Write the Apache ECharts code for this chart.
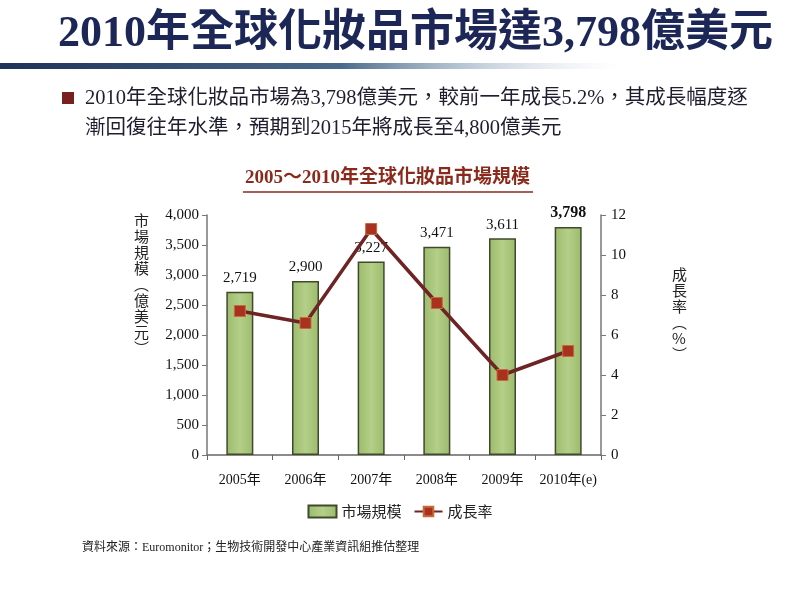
<!DOCTYPE html>
<html>
<head>
    <meta charset="utf-8" />
    <title>2010年全球化妝品市場</title>
    <script src="https://cdn.jsdelivr.net/npm/echarts@6/dist/echarts.min.js"></script>
    <style>
        html, body { margin: 0; padding: 0; background: #fff; }
        #main { width: 800px; height: 600px; }
    </style>
</head>
<body>
    <div id="main"></div>
<script type="text/javascript">
    // 資料
    var years = ['2005年', '2006年', '2007年', '2008年', '2009年', '2010年(e)'];
    var marketSize = [2719, 2900, 3227, 3471, 3611, 3798];   // 億美元
    var growthRate = [7.2, 6.6, 11.3, 7.6, 4.0, 5.2];        // %

    var serif = "'Liberation Serif', 'Times New Roman', 'Noto Sans CJK TC', serif";
    var cjk = "'Noto Sans CJK TC', sans-serif";

    var myChart = echarts.init(document.getElementById('main'));

    var option = {
        animation: false,
        backgroundColor: '#fff',
        grid: { left: 207, right: 199, top: 215, bottom: 145 },
        legend: {
            bottom: 76,
            left: 'center',
            itemGap: 12,
            itemWidth: 28,
            itemHeight: 12,
            textStyle: { fontFamily: cjk, fontSize: 15, color: '#222' },
            data: [
                { name: '市場規模', icon: 'rect' },
                { name: '成長率' }
            ]
        },
        xAxis: {
            type: 'category',
            data: years,
            axisLine: { lineStyle: { color: '#666', width: 1.5 } },
            axisTick: { show: true, length: 5, lineStyle: { color: '#666' } },
            axisLabel: { interval: 0, fontFamily: serif, fontSize: 14, color: '#111', margin: 18 }
        },
        yAxis: [{
            type: 'value',
            min: 0, max: 4000, interval: 500,
            splitLine: { show: false },
            axisLine: { show: true, lineStyle: { color: '#777', width: 1.5 } },
            axisTick: { show: true, length: 5, lineStyle: { color: '#777' } },
            axisLabel: {
                fontFamily: serif, fontSize: 15, color: '#111', margin: 8,
                formatter: function (v) { return v.toLocaleString('en-US'); }
            }
        }, {
            type: 'value',
            min: 0, max: 12, interval: 2,
            splitLine: { show: false },
            axisLine: { show: true, lineStyle: { color: '#777', width: 1.5 } },
            axisTick: { show: true, length: 5, lineStyle: { color: '#777' } },
            axisLabel: { fontFamily: serif, fontSize: 15, color: '#111', margin: 10 }
        }],
        series: [{
            name: '市場規模',
            type: 'bar',
            data: marketSize.map(function (v, i) {
                return {
                    value: v,
                    label: i === marketSize.length - 1 ? { fontWeight: 'bold', fontSize: 16 } : {}
                };
            }),
            barWidth: 27,
            itemStyle: {
                color: new echarts.graphic.LinearGradient(0, 0, 1, 0, [
                    { offset: 0, color: '#9cbb6c' },
                    { offset: 0.5, color: '#b4cf88' },
                    { offset: 1, color: '#9cbb6c' }
                ]),
                borderColor: '#3f4a2c',
                borderWidth: 1.5
            },
            label: {
                show: true,
                position: 'top',
                distance: 6,
                fontFamily: serif,
                fontSize: 15,
                color: '#111',
                formatter: function (p) { return p.value.toLocaleString('en-US'); }
            }
        }, {
            name: '成長率',
            type: 'line',
            yAxisIndex: 1,
            data: growthRate,
            z: 5,
            symbol: 'rect',
            symbolSize: 11,
            lineStyle: { color: '#6e2424', width: 3.5 },
            itemStyle: { color: '#a8321f', borderColor: '#c9683a', borderWidth: 1 }
        }],
        graphic: [
            // 主標題
            {
                type: 'text', left: 58, top: 13,
                style: {
                    text: '2010年全球化妝品市場達3,798億美元',
                    font: "bold 44px 'Liberation Serif', 'Noto Sans CJK TC', serif",
                    fill: '#1c2757'
                }
            },
            // 標題下的漸層線
            {
                type: 'rect', shape: { x: 0, y: 63, width: 620, height: 6 },
                style: {
                    fill: new echarts.graphic.LinearGradient(0, 0, 1, 0, [
                        { offset: 0, color: '#1d3357' },
                        { offset: 0.55, color: '#4a6a8a' },
                        { offset: 1, color: 'rgba(200,215,230,0)' }
                    ])
                }
            },
            // 項目符號
            { type: 'rect', shape: { x: 62, y: 92, width: 12, height: 12 }, style: { fill: '#7a1f1f' } },
            {
                type: 'text', left: 85, top: 84,
                style: {
                    text: '2010年全球化妝品市場為3,798億美元，較前一年成長5.2%，其成長幅度逐\n漸回復往年水準，預期到2015年將成長至4,800億美元',
                    font: "20.5px 'Liberation Serif', 'Noto Sans CJK TC', serif",
                    lineHeight: 30,
                    fill: '#1e1e2e'
                }
            },
            // 圖表標題
            {
                type: 'text', left: 245, top: 169,
                style: {
                    text: '2005～2010年全球化妝品市場規模',
                    font: "bold 19px 'Liberation Serif', 'Noto Sans CJK TC', serif",
                    fill: '#8a2a1c'
                }
            },
            { type: 'line', shape: { x1: 243, y1: 192, x2: 533, y2: 192 }, style: { stroke: '#8a2a1c', lineWidth: 1.5 } },
            // 左軸名稱
            {
                type: 'text', left: 134, top: 212,
                style: {
                    text: '市\n場\n規\n模\n︵\n億\n美\n元\n︶',
                    font: "15px 'Noto Sans CJK TC', sans-serif",
                    lineHeight: 16,
                    fill: '#222'
                }
            },
            // 右軸名稱
            {
                type: 'text', left: 672, top: 266,
                style: {
                    text: '成\n長\n率\n︵\n%\n︶',
                    font: "15px 'Noto Sans CJK TC', sans-serif",
                    lineHeight: 16,
                    align: 'center',
                    fill: '#222'
                }
            },
            // 資料來源
            {
                type: 'text', left: 82, top: 542,
                style: {
                    text: '資料來源：Euromonitor；生物技術開發中心產業資訊組推估整理',
                    font: "12px 'Liberation Serif', 'Noto Sans CJK TC', serif",
                    fill: '#222'
                }
            }
        ]
    };

    myChart.setOption(option);
</script>
</body>
</html>
